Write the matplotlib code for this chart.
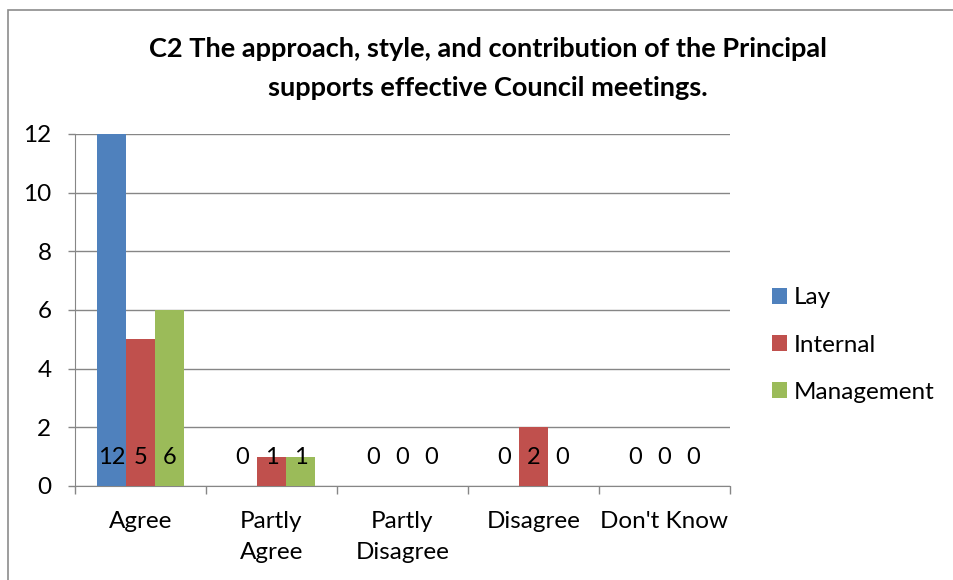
import matplotlib.pyplot as plt
from matplotlib.patches import Rectangle
import numpy as np

plt.rcParams['font.family'] = ['Lato', 'DejaVu Sans']

categories = ['Agree', 'Partly\nAgree', 'Partly\nDisagree', 'Disagree', "Don't Know"]
lay = [12, 0, 0, 0, 0]
internal = [5, 1, 0, 2, 0]
management = [6, 1, 0, 0, 0]
series = [('Lay', lay, '#4F81BD'), ('Internal', internal, '#C0504D'), ('Management', management, '#9BBB59')]

fig = plt.figure(figsize=(9.54, 5.8), dpi=100)
ax = fig.add_axes([75/954, 1-486/580, 655/954, 352/580])

# chart border
fig.patches.append(Rectangle((8/954, -0.05), 1.0, 1-10/580+0.05, transform=fig.transFigure,
                             fill=False, edgecolor='#8c8c8c', linewidth=1.2))

x = np.arange(len(categories))
w = 0.2222
grey = '#868686'
for i, (name, vals, col) in enumerate(series):
    pos = x + (i-1)*w
    ax.bar(pos, vals, w, color=col, label=name, zorder=3)
    for p, v in zip(pos, vals):
        ax.text(p, 0.98, str(v), ha='center', va='center', fontsize=17, zorder=4)

ax.set_xlim(-0.5, 4.5)
ax.set_ylim(0, 12)
ax.set_yticks(range(0, 13, 2))
ax.yaxis.grid(True, color=grey, linewidth=1, zorder=0)
ax.set_xticks(x)
ax.set_xticklabels(categories, fontsize=17.5, linespacing=1.6)
ax.set_xticks(np.arange(-0.5, 5, 1), minor=True)
ax.tick_params(axis='x', which='major', length=0, pad=18)
ax.tick_params(axis='x', which='minor', length=6, color=grey, width=1)
ax.tick_params(axis='y', length=5, color=grey, width=1, labelsize=17.5, pad=12)
for s in ['top', 'right']:
    ax.spines[s].set_visible(False)
for s in ['left', 'bottom']:
    ax.spines[s].set_color(grey)

fig.text(488/954, 1-49/580, 'C2 The approach, style, and contribution of the Principal',
         ha='center', va='center', fontsize=19.5, fontweight='bold')
fig.text(488/954, 1-88/580, 'supports effective Council meetings.',
         ha='center', va='center', fontsize=19.5, fontweight='bold')

leg = fig.legend(loc='center left', bbox_to_anchor=(750/954, 1-345/580), frameon=False,
                 fontsize=17.5, handlelength=0.62, handleheight=0.62, handletextpad=0.29,
                 labelspacing=1.07)

fig.savefig('out.png')
